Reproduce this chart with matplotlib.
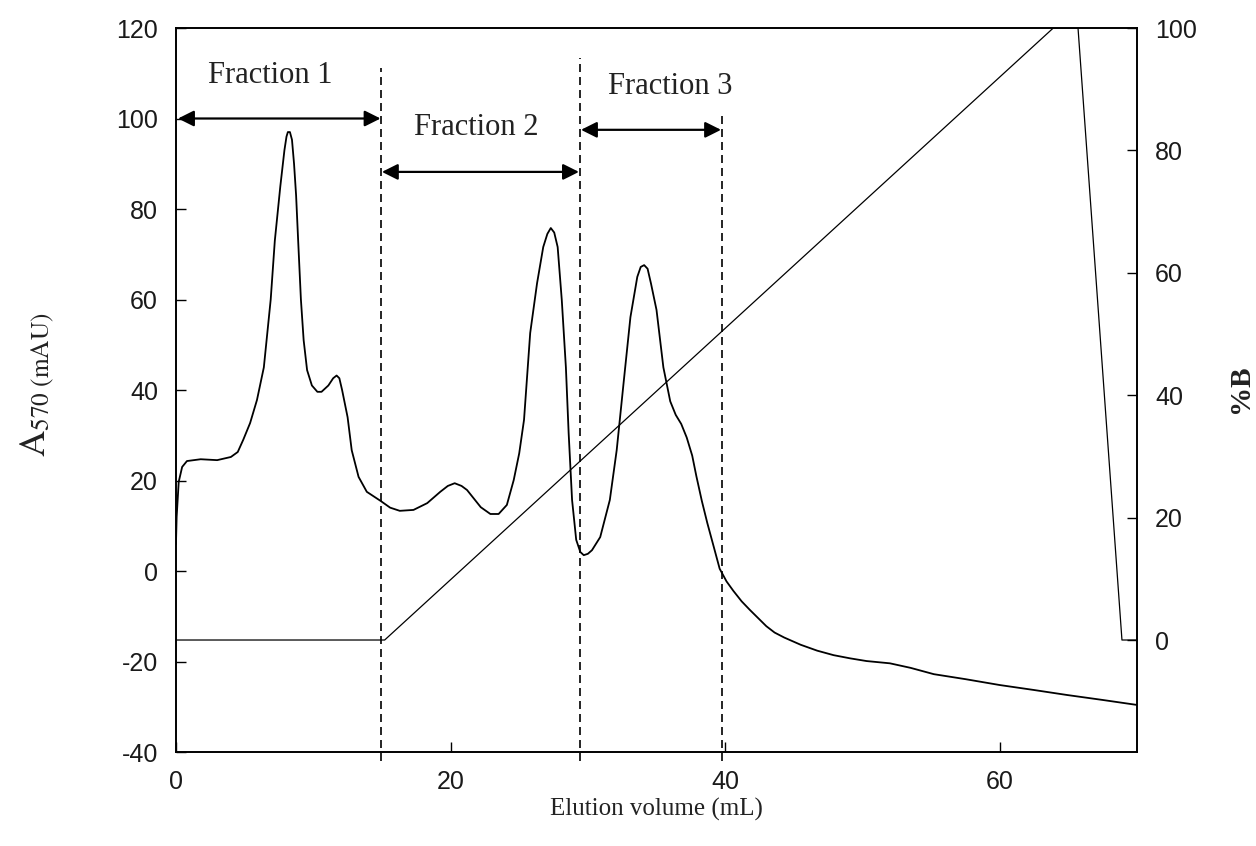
import numpy as np
import matplotlib.pyplot as plt

# absorbance trace (A570, mAU) vs elution volume (mL)
vol = [0, 0.05, 0.2, 0.45, 0.8, 1.8, 3.0, 4.0, 4.5, 4.9, 5.4, 5.9, 6.4, 6.9,
       7.2, 7.6, 7.9, 8.05, 8.15, 8.3, 8.45, 8.6, 8.75, 8.9, 9.1, 9.3, 9.55,
       9.9, 10.3, 10.6, 11.1, 11.45, 11.7, 11.9, 12.1, 12.5, 12.8, 13.3, 13.9,
       14.9, 15.6, 16.3, 17.3, 18.3, 19.25, 19.8, 20.3, 20.8, 21.2, 22.2,
       22.9, 23.5, 24.1, 24.6, 25.0, 25.35, 25.8, 26.3, 26.75, 27.05, 27.3,
       27.55, 27.8, 28.1, 28.4, 28.6, 28.85, 29.15, 29.45, 29.7, 30.0, 30.3,
       30.9, 31.6, 32.1, 32.6, 33.1, 33.6, 33.85, 34.1, 34.35, 34.6, 35.0,
       35.5, 36.0, 36.4, 36.8, 37.2, 37.6, 37.9, 38.3, 38.7, 39.2, 39.6, 40.1,
       40.6, 41.2, 41.8, 42.4, 43.0, 43.6, 44.3, 45.5, 46.7, 47.9, 49.1, 50.3,
       52.0, 53.5, 55.2, 57.5, 60.0, 62.5, 64.9, 67.5, 70.0]
absorb = [6, 12, 19.7, 23, 24.3, 24.7, 24.5, 25.2, 26.3, 29, 32.7, 37.8, 45,
          60, 73, 85, 93, 96, 97, 97, 95.3, 90, 83, 73, 60, 51, 44.4, 41,
          39.6, 39.6, 41, 42.6, 43.2, 42.6, 40, 34, 26.7, 20.8, 17.5, 15.5, 14,
          13.3, 13.5, 15, 17.5, 18.8, 19.4, 18.8, 17.9, 14.1, 12.6, 12.6, 14.6,
          20.1, 26, 33.4, 52.6, 63.6, 71.6, 74.5, 75.8, 74.8, 71.6, 59.9, 45,
          30.5, 15.7, 6.9, 4.2, 3.5, 3.8, 4.6, 7.5, 15.7, 26.7, 41.5, 56.1, 65,
          67.2, 67.6, 66.8, 63.5, 57.7, 45, 37.5, 34.5, 32.5, 29.5, 25.5, 21,
          15.5, 10.6, 5, 0.5, -2.3, -4.4, -6.7, -8.6, -10.4, -12.2, -13.6,
          -14.7, -16.3, -17.6, -18.6, -19.3, -19.9, -20.4, -21.4, -22.8,
          -23.9, -25.2, -26.3, -27.4, -28.5, -29.6]

# gradient programme (%B)
grad_vol = [0, 15.2, 63.9, 65.7, 68.9, 70]
grad_pct = [0, 0, 100, 100, 0, 0]

# fraction boundaries
cuts = [14.9, 29.4, 39.8]
cut_tops = [111.2, 113.4, 101.2]
frac_names = ['Fraction 1', 'Fraction 2', 'Fraction 3']
frac_spans = [(0.15, 14.9), (15.0, 29.35), (29.5, 39.7)]
arrow_y = [100, 88.2, 97.5]
label_pos = [(6.85, 109.5), (21.9, 98), (36.0, 107)]

tick_col = '#1a1a1a'
sans = 'Liberation Sans'
serif = 'Liberation Serif'
plt.rcParams['mathtext.fontset'] = 'stix'
plt.rcParams['axes.unicode_minus'] = False

fig = plt.figure(figsize=(12.56, 8.46), dpi=100)
ax = fig.add_axes([0.1401, 0.1111, 0.7652, 0.8558])
ax2 = ax.twinx()

ax.plot(vol, absorb, color='k', lw=1.3)
ax2.plot(grad_vol, grad_pct, color='k', lw=0.9)

for c, t in zip(cuts, cut_tops):
    ln, = ax.plot([c, c], [-42, t], color='k', lw=1.2, clip_on=False)
    ln.set_dashes((4.8, 3))

for name, (x0, x1), ya, (tx, ty) in zip(frac_names, frac_spans, arrow_y, label_pos):
    ax.annotate('', xy=(x1, ya), xytext=(x0, ya),
                arrowprops=dict(arrowstyle='<|-|>', mutation_scale=24,
                                lw=1.6, color='k', shrinkA=0, shrinkB=0))
    ax.text(tx, ty, name, family=serif, fontsize=22, ha='center', va='center',
            color='#222222')

ax.set_xlim(0, 70)
ax.set_ylim(-40, 120)
ax2.set_ylim(-18.3, 100)
ax.set_xticks([0, 20, 40, 60])
ax.set_yticks(np.arange(-40, 121, 20))
ax2.set_yticks(np.arange(0, 101, 20))

for a in (ax, ax2):
    a.tick_params(direction='in', length=7, width=1, pad=13,
                  labelsize=18, labelcolor=tick_col)
    for lab in a.get_xticklabels() + a.get_yticklabels():
        lab.set_family(sans)
    for s in a.spines.values():
        s.set_linewidth(1.2)

ax.set_xlabel('Elution volume (mL)', family=serif, fontsize=18, labelpad=3,
              color='#222222')
fig.text(0.03, 0.545, r'$\mathrm{A}_{\mathrm{570\ (mAU)}}$', rotation=90,
         fontsize=26, ha='center', va='center', color='#222222')
fig.text(0.988, 0.54, '%B', rotation=90, family=serif, fontweight='bold',
         fontsize=21, ha='center', va='center', color='#222222')

fig.savefig('out.png', dpi=100)
